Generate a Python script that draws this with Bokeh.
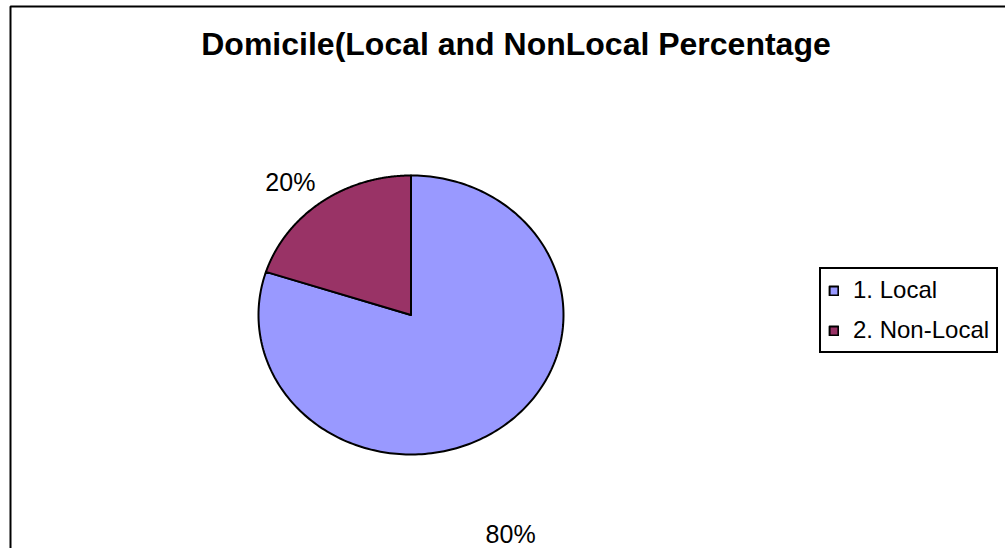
import numpy as np
from bokeh.plotting import figure
from bokeh.models import Range1d, Legend, LegendItem, Label, BoxAnnotation, ColumnDataSource
from bokeh.core.properties import value
from bokeh.embed import file_html
from bokeh.resources import INLINE

# ---- data ----
categories = ["1. Local", "2. Non-Local"]
values = [80, 20]
colors = ["#9999FF", "#993366"]
title_text = "Domicile(Local and NonLocal Percentage"

# ---- layout (page pixel coordinates) ----
CX, CY, RX, RY = 410.5, 314.5, 152.5, 139.5
label_dx = [10, -31]
label_dy = [106, -20]
FONT = "Liberation Sans"

p = figure(width=1005, height=548, x_range=Range1d(0, 1005), y_range=Range1d(548, 0),
           output_backend="svg", toolbar_location=None, min_border=0,
           x_axis_location=None, y_axis_location=None)
p.grid.visible = False
p.outline_line_color = None
p.background_fill_color = "white"
p.border_fill_color = "white"

# chart-area frame (extends beyond the visible page on right/bottom)
p.add_layout(BoxAnnotation(left=10, right=1200, top=6, bottom=800,
                           fill_alpha=0, line_color="black", line_width=2, line_alpha=1))

total = float(sum(values))
fr = np.array(values, dtype=float) / total
ends = np.cumsum(fr) * 2 * np.pi
starts = ends - fr * 2 * np.pi
xs, ys = [], []
for s, e in zip(starts, ends):
    t = np.linspace(s, e, 240)
    xs.append(np.concatenate([[CX], CX + RX * np.sin(t)]))
    ys.append(np.concatenate([[CY], CY - RY * np.cos(t)]))
src = ColumnDataSource(dict(xs=xs, ys=ys, color=colors, label=categories))
r = p.patches("xs", "ys", source=src, fill_color="color", line_color="black",
              line_width=2, line_join="round")

mid = (starts + ends) / 2
lx = CX + RX * np.sin(mid) + np.array(label_dx)
ly = CY - RY * np.cos(mid) + np.array(label_dy)
ltxt = [f"{round(v / total * 100)}%" for v in values]
lsrc = ColumnDataSource(dict(x=lx, y=ly, text=ltxt))
p.text("x", "y", text="text", source=lsrc, text_font=value(FONT),
       text_font_size="25px", text_align="center", text_baseline="middle",
       text_color="black")

p.add_layout(Label(x=515.5, y=43.5, text=title_text, text_font=FONT,
                   text_font_size="32px", text_font_style="bold", text_color="black",
                   text_align="center", text_baseline="middle"))

legend = Legend(items=[LegendItem(label=categories[i], renderers=[r], index=i)
                       for i in range(len(categories))],
                location=(819, 195), orientation="vertical",
                label_text_font=FONT, label_text_font_size="24px", label_text_color="black",
                glyph_width=11, glyph_height=11, label_standoff=14,
                label_height=26, spacing=12, padding=7, margin=0,
                border_line_color="black", border_line_width=2, border_line_alpha=1.0,
                background_fill_color="white", background_fill_alpha=1.0)
p.add_layout(legend, "center")

open("out.html", "w").write(file_html(p, INLINE))
